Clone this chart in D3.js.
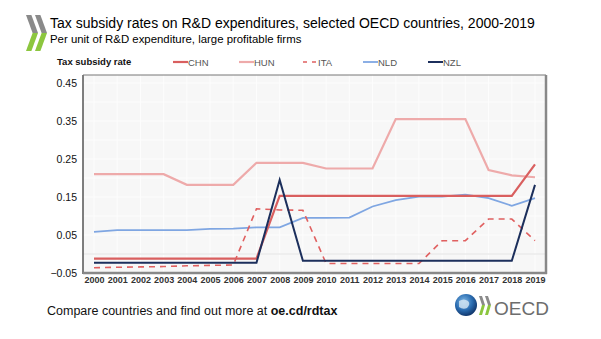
<!DOCTYPE html>
<html>
<head>
<meta charset="utf-8">
<script src="https://cdn.jsdelivr.net/npm/d3@7"></script>
<style>
  body { margin: 0; background: #fff; }
  text { font-family: "Liberation Sans", Arial, sans-serif; }
</style>
</head>
<body>
<div id="chart"></div>
<script>
var years = d3.range(2000, 2020);
var chn = [-0.012,-0.012,-0.012,-0.012,-0.012,-0.012,-0.012,-0.012,0.153,0.153,0.153,0.153,0.153,0.153,0.153,0.153,0.153,0.153,0.153,0.236];
var hun = [0.21,0.21,0.21,0.21,0.182,0.182,0.182,0.24,0.24,0.24,0.225,0.225,0.225,0.355,0.355,0.355,0.355,0.221,0.207,0.202];
var ita = [-0.036,-0.035,-0.034,-0.033,-0.031,-0.030,-0.029,0.119,0.116,0.115,-0.025,-0.025,-0.025,-0.025,-0.025,0.035,0.035,0.092,0.092,0.035];
var nld = [0.058,0.063,0.063,0.063,0.063,0.066,0.067,0.070,0.070,0.095,0.095,0.096,0.125,0.142,0.151,0.151,0.156,0.147,0.127,0.147];
var nzl = [-0.023,-0.023,-0.023,-0.023,-0.023,-0.023,-0.023,-0.023,0.195,-0.018,-0.018,-0.018,-0.018,-0.018,-0.018,-0.018,-0.018,-0.018,-0.018,0.182];
var yTicks = [-0.05, 0.05, 0.15, 0.25, 0.35, 0.45];

var series = [
  {name: "CHN", values: chn, color: "#d95f5f", width: 2.2, dash: null},
  {name: "HUN", values: hun, color: "#eeaaaa", width: 2.2, dash: null},
  {name: "ITA", values: ita, color: "#e06060", width: 1.6, dash: "6,5"},
  {name: "NLD", values: nld, color: "#7fa6e2", width: 1.8, dash: null},
  {name: "NZL", values: nzl, color: "#1c2f5c", width: 2, dash: null}
];

var svgWidth = 601, svgHeight = 339;
var plot = {left: 83, top: 75, right: 546, bottom: 273};

var svg = d3.select("#chart").append("svg")
  .attr("width", svgWidth)
  .attr("height", svgHeight);

// OECD chevrons top-left
var logo = svg.append("g");
logo.append("path").attr("d", "M26,15 L31.4,15 L38,33 L32.6,33 Z").attr("fill", "#8a8a8a");
logo.append("path").attr("d", "M35,15 L40.4,15 L47,33 L41.6,33 Z").attr("fill", "#8a8a8a");
logo.append("path").attr("d", "M26,51 L31.4,51 L38,33 L32.6,33 Z").attr("fill", "#8cc63f");
logo.append("path").attr("d", "M35,51 L40.4,51 L47,33 L41.6,33 Z").attr("fill", "#8cc63f");

svg.append("text")
  .attr("x", 50).attr("y", 28)
  .attr("font-size", 14)
  .attr("fill", "#000")
  .text("Tax subsidy rates on R&D expenditures, selected OECD countries, 2000-2019");

svg.append("text")
  .attr("x", 50).attr("y", 43)
  .attr("font-size", 11.4)
  .attr("fill", "#000")
  .text("Per unit of R&D expenditure, large profitable firms");

// plot background
svg.append("rect")
  .attr("x", plot.left).attr("y", plot.top)
  .attr("width", plot.right - plot.left).attr("height", plot.bottom - plot.top)
  .attr("fill", "#f7f7f7");

var x = d3.scalePoint()
  .domain(years)
  .range([94, 535]);

var y = d3.scaleLinear()
  .domain([-0.05, 0.4711])
  .range([plot.bottom, plot.top]);

// faint gridlines
svg.append("g").selectAll("line")
  .data(d3.range(-0.05, 0.47, 0.05))
  .enter().append("line")
  .attr("x1", plot.left).attr("x2", plot.right)
  .attr("y1", d => y(d)).attr("y2", d => y(d))
  .attr("stroke", "#fdfdfd").attr("stroke-width", 1);

svg.append("g").selectAll("line")
  .data(years)
  .enter().append("line")
  .attr("x1", d => x(d)).attr("x2", d => x(d))
  .attr("y1", plot.top).attr("y2", plot.bottom)
  .attr("stroke", "#fdfdfd").attr("stroke-width", 1);

// zero line
svg.append("line")
  .attr("x1", plot.left).attr("x2", plot.right)
  .attr("y1", y(0)).attr("y2", y(0))
  .attr("stroke", "#e2e2e2").attr("stroke-width", 1);

// axes
var yAxis = d3.axisLeft(y).tickValues(yTicks).tickSize(0).tickPadding(6)
  .tickFormat(d3.format(".2f"));
var yG = svg.append("g")
  .attr("transform", `translate(${plot.left},0)`)
  .call(yAxis);
yG.select(".domain").remove();
yG.selectAll("text")
  .attr("font-size", 10.5)
  .attr("font-family", "Liberation Sans, Arial, sans-serif")
  .attr("fill", "#111");

var xAxis = d3.axisBottom(x).tickSize(0).tickPadding(3);
var xG = svg.append("g")
  .attr("transform", `translate(0,${plot.bottom + 1})`)
  .call(xAxis);
xG.select(".domain").remove();
xG.selectAll("text")
  .attr("font-size", 9)
  .attr("font-weight", "bold")
  .attr("font-family", "Liberation Sans, Arial, sans-serif")
  .attr("fill", "#333");

// frame
svg.append("line").attr("x1", plot.left).attr("x2", plot.left)
  .attr("y1", plot.top).attr("y2", plot.bottom + 1)
  .attr("stroke", "#555").attr("stroke-width", 1.5);
svg.append("line").attr("x1", plot.left).attr("x2", plot.right)
  .attr("y1", plot.top).attr("y2", plot.top)
  .attr("stroke", "#777").attr("stroke-width", 1);
svg.append("line").attr("x1", plot.right).attr("x2", plot.right)
  .attr("y1", plot.top).attr("y2", plot.bottom + 1)
  .attr("stroke", "#888").attr("stroke-width", 2.5);
svg.append("line").attr("x1", plot.left).attr("x2", plot.right + 1)
  .attr("y1", plot.bottom).attr("y2", plot.bottom)
  .attr("stroke", "#888").attr("stroke-width", 2.5);

// lines
var line = d3.line()
  .x((d, i) => x(years[i]))
  .y(d => y(d));

var order = ["HUN", "NLD", "ITA", "CHN", "NZL"];
order.forEach(function(name) {
  var s = series.find(d => d.name === name);
  svg.append("path")
    .datum(s.values)
    .attr("d", line)
    .attr("fill", "none")
    .attr("stroke", s.color)
    .attr("stroke-width", s.width)
    .attr("stroke-dasharray", s.dash)
    .attr("stroke-linejoin", "miter");
});

// legend
svg.append("text")
  .attr("x", 57).attr("y", 65)
  .attr("font-size", 9.5)
  .attr("font-weight", "bold")
  .attr("fill", "#111")
  .text("Tax subsidy rate");

var legendX = [173, 239, 303, 363, 428];
var legend = svg.append("g").selectAll("g")
  .data(series)
  .enter().append("g")
  .attr("transform", (d, i) => `translate(${legendX[i]},62)`);
legend.append("line")
  .attr("x1", 0).attr("x2", 15)
  .attr("y1", 0).attr("y2", 0)
  .attr("stroke", d => d.color)
  .attr("stroke-width", d => d.width)
  .attr("stroke-dasharray", d => d.dash ? "4,5" : null);
legend.append("text")
  .attr("x", 15).attr("y", 3.5)
  .attr("font-size", 9.5)
  .attr("fill", "#555")
  .text(d => d.name);

// footer
var foot = svg.append("text")
  .attr("x", 47).attr("y", 315)
  .attr("font-size", 12.5)
  .attr("fill", "#111");
foot.append("tspan").text("Compare countries and find out more at ");
foot.append("tspan").attr("font-weight", "bold").text("oe.cd/rdtax");

// OECD logo bottom-right
var grad = svg.append("defs").append("radialGradient")
  .attr("id", "globe").attr("cx", "40%").attr("cy", "35%").attr("r", "65%");
grad.append("stop").attr("offset", "0%").attr("stop-color", "#7fb8e6");
grad.append("stop").attr("offset", "60%").attr("stop-color", "#2a6cb0");
grad.append("stop").attr("offset", "100%").attr("stop-color", "#12386e");
svg.append("circle").attr("cx", 466).attr("cy", 305).attr("r", 11)
  .attr("fill", "url(#globe)");
svg.append("path").attr("d", "M459,301 q5,-3 9,0 q3,3 -1,7 q-4,2 -8,-1 z")
  .attr("fill", "#d8e8f4").attr("opacity", 0.8);
var ol = svg.append("g");
ol.append("path").attr("d", "M479,296 L482,296 L485,305 L482,305 Z").attr("fill", "#8a8a8a");
ol.append("path").attr("d", "M485,296 L488,296 L491,305 L488,305 Z").attr("fill", "#8a8a8a");
ol.append("path").attr("d", "M479,315 L482,315 L485,305 L482,305 Z").attr("fill", "#8cc63f");
ol.append("path").attr("d", "M485,315 L488,315 L491,305 L488,305 Z").attr("fill", "#8cc63f");
svg.append("text")
  .attr("x", 494).attr("y", 315)
  .attr("font-size", 19)
  .attr("fill", "#6d6d6d")
  .text("OECD");
</script>
</body>
</html>
